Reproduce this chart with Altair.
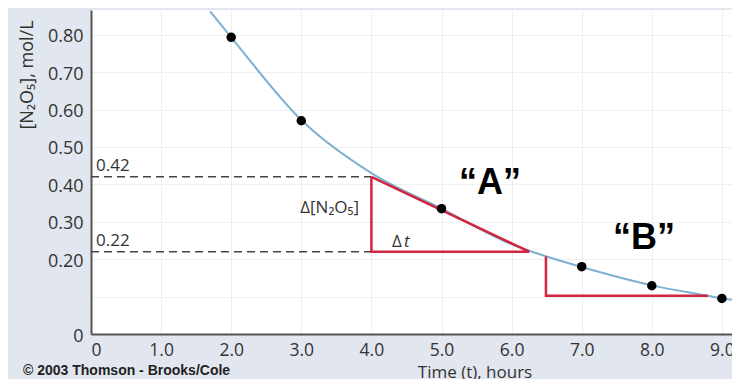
import altair as alt
import pandas as pd

# ---- data ----
dot_t = [2.0, 3.0, 5.0, 7.0, 8.0, 9.0]
dot_c = [0.793, 0.570, 0.335, 0.180, 0.129, 0.095]

curve_t = [1.70, 2.0, 3.0, 4.0, 5.0, 6.0, 6.5, 7.0, 8.0, 8.8, 9.0, 9.26]
curve_c = [0.862, 0.793, 0.572, 0.430, 0.335, 0.240, 0.207, 0.179, 0.130, 0.102, 0.095, 0.089]

triA_t = [4.0, 4.0, 6.25, 4.0]
triA_c = [0.42, 0.22, 0.22, 0.42]
triB_t = [6.49, 6.49, 8.8]
triB_c = [0.207, 0.102, 0.102]

ref_levels = [0.42, 0.22]
ref_labels = ["0.42", "0.22"]
ref_start = 0.0
ref_end = 4.0

x_ticks = [0, 1, 2, 3, 4, 5, 6, 7, 8, 9]
y_ticks = [0, 0.1, 0.2, 0.3, 0.4, 0.5, 0.6, 0.7, 0.8]

# ---- frames ----
dots = pd.DataFrame({"t": dot_t, "c": dot_c})
curve = pd.DataFrame({"t": curve_t, "c": curve_c})
triA = pd.DataFrame({"t": triA_t, "c": triA_c, "o": list(range(len(triA_t)))})
triB = pd.DataFrame({"t": triB_t, "c": triB_c, "o": list(range(len(triB_t)))})
refs = pd.DataFrame({"t0": [ref_start] * len(ref_levels), "t1": [ref_end] * len(ref_levels),
                     "c": ref_levels, "lab": ref_labels})

TICK_FONT = "Open Sans, DejaVu Sans"
TXT = "#333333"

xs = alt.Scale(domain=[0, 9.144], nice=False, zero=False)
ys = alt.Scale(domain=[0, 0.866], nice=False, zero=False)

xaxis = alt.Axis(values=x_ticks, title=None, grid=True, gridColor="#eeeff1", gridWidth=1,
                 ticks=False, domainColor="#555555", domainWidth=2,
                 labelFont=TICK_FONT, labelFontSize=17.5, labelColor=TXT, labelPadding=7,
                 labelExpr="datum.value == 0 ? '0' : format(datum.value, '.1f')")
yaxis = alt.Axis(values=y_ticks, title=None, grid=True, gridColor="#eeeff1", gridWidth=1,
                 ticks=False, domainColor="#555555", domainWidth=2,
                 labelFont=TICK_FONT, labelFontSize=18, labelColor=TXT, labelPadding=8,
                 labelOffset=2,
                 labelExpr="abs(datum.value - 0.1) < 0.001 ? '' : (datum.value == 0 ? '0' : format(datum.value, '.2f'))")


def X(f="t"):
    return alt.X(f"{f}:Q", scale=xs, axis=xaxis)


def Y(f="c"):
    return alt.Y(f"{f}:Q", scale=ys, axis=yaxis)


curve_layer = alt.Chart(curve).mark_line(color="#7eb0d2", strokeWidth=2, interpolate="monotone",
                                         clip=True).encode(x=X(), y=Y())

dash_layer = alt.Chart(refs).mark_rule(color="#444444", strokeWidth=1.5, strokeDash=[8, 5]).encode(
    x=X("t0"), x2="t1", y=Y())

dash_text = alt.Chart(refs).mark_text(align="left", baseline="alphabetic", dx=5, dy=-6,
                                      font=TICK_FONT, fontSize=17, color=TXT).encode(
    x=X("t0"), y=Y(), text="lab:N")

red = "#d2253f"
triA_layer = alt.Chart(triA).mark_line(color=red, strokeWidth=2.5).encode(x=X(), y=Y(), order="o:Q")
triB_layer = alt.Chart(triB).mark_line(color=red, strokeWidth=2.5).encode(x=X(), y=Y(), order="o:Q")

dot_layer = alt.Chart(dots).mark_circle(size=90, color="black", opacity=1).encode(x=X(), y=Y())


def label(text, px, py, **kw):
    return alt.Chart(pd.DataFrame({"v": [0]})).mark_text(text=text, **kw).encode(
        x=alt.value(px), y=alt.value(py))


texts = [
    label("Δ[N₂O₅]", 268, 198, align="right", baseline="middle", font=TICK_FONT, fontSize=17, color=TXT),
    label("Δ", 301, 232, align="left", baseline="middle", font=TICK_FONT, fontSize=17, color=TXT),
    label("t", 313, 232, align="left", baseline="middle", font=TICK_FONT, fontSize=17, color=TXT,
          fontStyle="italic"),
    label("“A”", 399, 184, align="center", baseline="alphabetic", font="Liberation Sans", fontSize=36,
          fontWeight="bold", color="black"),
    label("“B”", 553, 239, align="center", baseline="alphabetic", font="Liberation Sans", fontSize=36,
          fontWeight="bold", color="black"),
    label("[N₂O₅], mol/L", -63, 65, align="center", baseline="middle", angle=270, font=TICK_FONT,
          fontSize=18, color=TXT),
    label("Time (t), hours", 384, 368, align="center", baseline="alphabetic", font=TICK_FONT,
          fontSize=17, color=TXT),
    label("© 2003 Thomson - Brooks/Cole", -68, 361, align="left", baseline="middle",
          font="Liberation Sans", fontSize=14, fontWeight="bold", color="#222222"),
]

chart = alt.layer(curve_layer, dash_layer, dash_text, triA_layer, triB_layer, dot_layer, *texts).properties(
    width=641, height=324,
    padding={"left": 83, "top": 2, "right": 0, "bottom": 45},
    autosize=alt.AutoSizeParams(type="none"),
    background="#e2e7ef",
).configure_view(fill="white", stroke=None)

chart.save("out.html", embed_options={"renderer": "svg", "actions": False})
